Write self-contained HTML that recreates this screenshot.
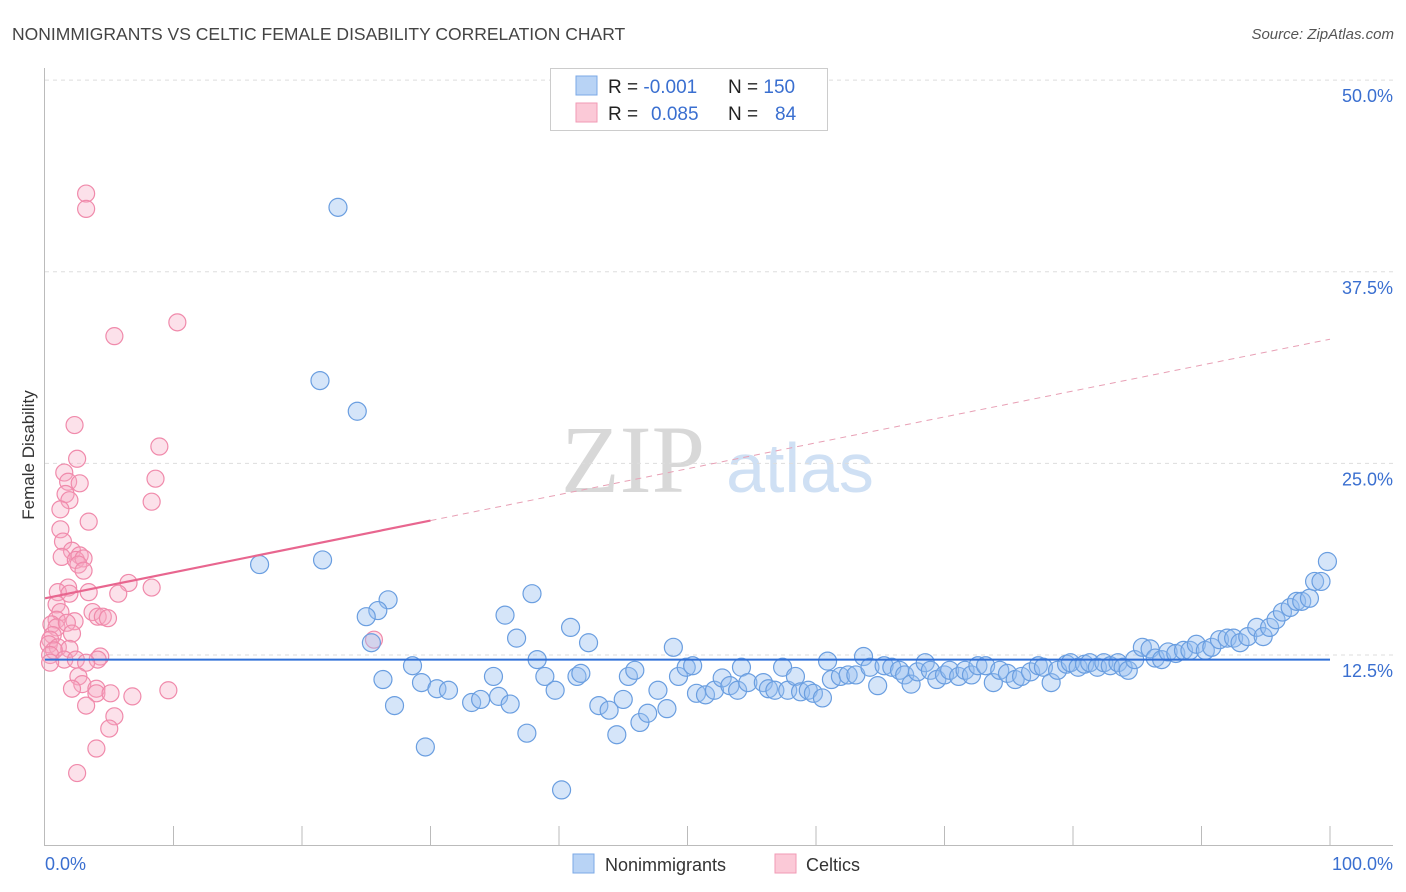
<!DOCTYPE html>
<html><head><meta charset="utf-8"><style>
body{margin:0;background:#fff;font-family:"Liberation Sans",sans-serif;}
#wrap{position:relative;width:1406px;height:892px;overflow:hidden;}
</style></head><body>
<div id="wrap">
<svg id="svg" width="1406" height="892" xmlns="http://www.w3.org/2000/svg">
<text x="12" y="40" font-size="17.5" fill="#444">NONIMMIGRANTS VS CELTIC FEMALE DISABILITY CORRELATION CHART</text>
<text x="1394" y="39" font-size="15" fill="#555" font-style="italic" text-anchor="end">Source: ZipAtlas.com</text>
<text x="34" y="455" font-size="17" fill="#333" text-anchor="middle" transform="rotate(-90 34 455)">Female Disability</text>
<text x="633" y="492" font-size="96" fill="#d8d8d8" font-family="Liberation Serif,serif" text-anchor="middle">ZIP</text>
<text x="800" y="492" font-size="70" fill="#cfe0f4" text-anchor="middle">atlas</text>
<g id="grid"></g><g id="axes"></g><g id="pink"></g><g id="blue"></g><g id="lines"></g>
<g>
<rect x="550.5" y="68.5" width="277" height="62" fill="#fff" stroke="#ccc"/>
<rect x="576" y="76" width="21" height="19" fill="#b8d3f5" stroke="#7ba8e6"/>
<rect x="576" y="103" width="21" height="19" fill="#fbc9d7" stroke="#f19ab4"/>
<text x="608" y="93" font-size="19" fill="#222">R = <tspan fill="#3a6fd0">-0.001</tspan><tspan x="728">N = </tspan><tspan fill="#3a6fd0">150</tspan></text>
<text x="608" y="120" font-size="19" fill="#222">R = <tspan x="651" fill="#3a6fd0">0.085</tspan><tspan x="728">N = </tspan><tspan x="775" fill="#3a6fd0">84</tspan></text>
</g>
<g>
<rect x="573" y="854" width="21" height="19" fill="#b8d3f5" stroke="#7ba8e6"/>
<text x="605" y="871" font-size="18" fill="#333">Nonimmigrants</text>
<rect x="775" y="854" width="21" height="19" fill="#fbc9d7" stroke="#f19ab4"/>
<text x="806" y="871" font-size="18" fill="#333">Celtics</text>
</g>
</svg></div>
<script>
const yTicks=[12.5,25,37.5,50];
const yTickLabels=["12.5%","25.0%","37.5%","50.0%"];
const xTickLabels=["0.0%","100.0%"];
const blueX=[22.8,21.4,24.3,16.7,21.6,26.7,25.9,25.0,25.4,37.9,35.8,36.7,40.9,42.3,38.3,28.6,26.3,29.3,30.5,31.4,27.2,33.2,33.9,35.3,36.2,34.9,29.6,37.5,40.2,38.9,39.7,41.4,41.7,43.1,43.9,44.5,45.0,45.4,45.9,46.3,46.9,47.7,48.4,48.9,49.3,49.9,50.4,50.7,51.4,52.1,52.7,53.3,53.9,54.2,54.7,55.9,56.3,56.8,57.4,57.8,58.4,58.8,59.4,59.8,60.5,60.9,61.2,61.9,62.5,63.1,63.7,64.2,64.8,65.3,65.9,66.5,66.9,67.4,67.9,68.5,68.9,69.4,70.0,70.4,71.1,71.6,72.1,72.6,73.2,73.8,74.3,74.9,75.5,76.0,76.7,77.3,77.7,78.3,78.8,79.5,79.8,80.4,80.9,81.3,81.9,82.4,82.9,83.5,83.9,84.3,84.8,85.4,86.0,86.4,86.9,87.4,88.0,88.6,89.1,89.6,90.3,90.8,91.4,92.0,92.5,93.0,93.6,94.3,94.8,95.3,95.8,96.3,96.9,97.4,97.8,98.4,98.8,99.3,99.8];
const blueY=[41.7,30.4,28.4,18.4,18.7,16.1,15.4,15.0,13.3,16.5,15.1,13.6,14.3,13.3,12.2,11.8,10.9,10.7,10.3,10.2,9.2,9.4,9.6,9.8,9.3,11.1,6.5,7.4,3.7,11.1,10.2,11.1,11.3,9.2,8.9,7.3,9.6,11.1,11.5,8.1,8.7,10.2,9.0,13.0,11.1,11.7,11.8,10.0,9.9,10.2,11.0,10.5,10.2,11.7,10.7,10.7,10.3,10.2,11.7,10.2,11.1,10.1,10.2,10.0,9.7,12.1,10.9,11.1,11.2,11.2,12.4,11.7,10.5,11.8,11.7,11.5,11.2,10.6,11.4,12.0,11.5,10.9,11.2,11.5,11.1,11.5,11.2,11.8,11.8,10.7,11.5,11.3,10.9,11.1,11.4,11.8,11.7,10.7,11.5,11.9,12.0,11.7,11.9,12.0,11.7,12.0,11.8,12.0,11.7,11.5,12.2,13.0,12.9,12.3,12.2,12.7,12.6,12.8,12.8,13.2,12.8,13.0,13.5,13.6,13.6,13.3,13.7,14.3,13.7,14.3,14.8,15.3,15.6,16.0,16.0,16.2,17.3,17.3,18.6];
const pinkX=[3.2,3.2,10.3,5.4,2.3,8.9,2.5,1.5,8.6,1.8,2.7,1.6,1.9,8.3,1.2,3.4,1.2,1.4,2.1,1.3,2.7,2.4,3.0,2.6,3.0,6.5,1.8,1.0,1.9,3.4,5.7,8.3,0.9,1.2,3.7,4.1,4.5,4.9,0.9,2.3,0.5,0.9,1.7,0.6,0.4,2.1,25.6,0.3,1.0,0.7,1.9,0.4,4.3,4.1,1.5,2.4,0.4,3.2,2.6,2.9,2.1,4.0,4.0,5.1,6.8,9.6,3.2,5.4,5.0,4.0,2.5];
const pinkY=[42.6,41.6,34.2,33.3,27.5,26.1,25.3,24.4,24.0,23.8,23.7,23.0,22.6,22.5,22.0,21.2,20.7,19.9,19.3,18.9,19.0,18.7,18.8,18.4,18.0,17.2,16.9,16.6,16.5,16.6,16.5,16.9,15.8,15.3,15.3,15.0,15.0,14.9,14.8,14.7,14.5,14.3,14.6,13.8,13.5,13.9,13.5,13.2,13.0,12.8,12.9,12.5,12.4,12.2,12.2,12.2,12.0,12.0,11.1,10.6,10.3,10.3,10.0,10.0,9.8,10.2,9.2,8.5,7.7,6.4,4.8];
const blueTrend=[12.2,12.2];
const pinkTrend=[16.2,33.1];
const NS="http://www.w3.org/2000/svg";
const X=v=>45+v*12.85, Y=v=>655-(v-12.5)*15.33;
function mk(t,a,p){const e=document.createElementNS(NS,t);for(const k in a)e.setAttribute(k,a[k]);p.appendChild(e);return e;}
const grid=document.getElementById('grid'),axes=document.getElementById('axes');
yTicks.forEach((v,i)=>{
 const l=mk('line',{x1:45,x2:1393,y1:Y(v),y2:Y(v),stroke:'#ddd','stroke-dasharray':'4,4'},grid);
 
 
 const t=mk('text',{x:1393,y:Y(v)+22,'font-size':18,fill:'#3a6fd0','text-anchor':'end'},axes);t.textContent=yTickLabels[i];
 
 
});
mk('line',{x1:44.5,x2:44.5,y1:68,y2:845,stroke:'#bbb'},axes);
mk('line',{x1:44,x2:1393,y1:845.5,y2:845.5,stroke:'#bbb'},axes);
for(let i=1;i<=10;i++){const t=mk('line',{x1:X(i*10),x2:X(i*10),y1:826,y2:845,stroke:'#bbb'},axes);
 
 }
[[0,'start'],[100,'end']].forEach((d,i)=>{const t=mk('text',{x:i?1393:45,y:870,'font-size':18,fill:'#3a6fd0','text-anchor':d[1]},axes);t.textContent=xTickLabels[i];
 
 });
const pg=document.getElementById('pink'),bg=document.getElementById('blue');
pinkX.forEach((x,i)=>{const c=mk('circle',{cx:X(x),cy:Y(pinkY[i]),r:8.5,fill:'rgba(246,170,195,0.35)',stroke:'#f08aab','stroke-width':1.2},pg);
 
 });
blueX.forEach((x,i)=>{const c=mk('circle',{cx:X(x),cy:Y(blueY[i]),r:9,fill:'rgba(150,190,240,0.4)',stroke:'#6a9ee0','stroke-width':1.2},bg);
 
 });
const lg=document.getElementById('lines');
const pm=v=>pinkTrend[0]+(pinkTrend[1]-pinkTrend[0])*v/100;
let a=mk('line',{x1:X(0),x2:X(100),y1:Y(blueTrend[0]),y2:Y(blueTrend[1]),stroke:'#2f6fd6','stroke-width':2},lg);


a=mk('line',{x1:X(0),x2:X(30),y1:Y(pm(0)),y2:Y(pm(30)),stroke:'#e8668f','stroke-width':2.2},lg);


a=mk('line',{x1:X(30),x2:X(100),y1:Y(pm(30)),y2:Y(pm(100)),stroke:'#e8a0b5','stroke-width':1,'stroke-dasharray':'6,5'},lg);


</script>
</body></html>
